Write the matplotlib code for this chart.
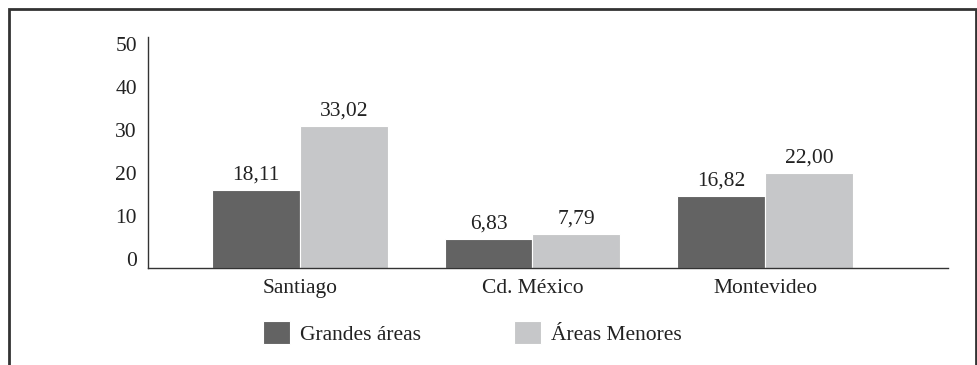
import numpy as np
import matplotlib.pyplot as plt
import matplotlib.transforms as mtransforms
from matplotlib.patches import Rectangle

# datos
ciudades = ['Santiago', 'Cd. México', 'Montevideo']
grandes = [18.11, 6.83, 16.82]
menores = [33.02, 7.79, 22.00]
series = ['Grandes áreas', 'Áreas Menores']
yticks = [0, 10, 20, 30, 40, 50]

plt.rcParams['font.family'] = ['Liberation Serif', 'DejaVu Serif']
plt.rcParams['font.size'] = 15.5

fig = plt.figure(figsize=(9.78, 3.65), dpi=100)
ax = fig.add_axes([0.1513, 0.2658, 0.8180, 0.6328])

x = np.arange(len(ciudades))
w = 0.378
b1 = ax.bar(x - w / 2, grandes, w, color='#636363', edgecolor='white', linewidth=0.8,
            label=series[0])
b2 = ax.bar(x + w / 2, menores, w, color='#c6c7c9', edgecolor='white', linewidth=0.8,
            label=series[1])

for bars, vals in [(b1, grandes), (b2, menores)]:
    for rect, v in zip(bars, vals):
        ax.annotate(f'{v:.2f}'.replace('.', ','),
                    (rect.get_x() + rect.get_width() / 2, rect.get_height()),
                    xytext=(0, 4), textcoords='offset points',
                    ha='center', va='bottom', color='#222222')

ax.set_xlim(-0.652, 2.785)
ax.set_ylim(0, 53.7)
ax.set_xticks(x)
ax.set_xticklabels(ciudades, color='#222222')
ax.set_yticks(yticks)
ax.set_yticklabels([str(t) for t in yticks], color='#222222')
ax.tick_params(length=0)
ax.tick_params(axis='x', pad=8)
ax.tick_params(axis='y', pad=8)

# etiquetas del eje y un poco desplazadas hacia arriba
off = mtransforms.ScaledTranslation(0, 9 / 100, fig.dpi_scale_trans)
for lab in ax.get_yticklabels():
    lab.set_transform(lab.get_transform() + off)

for s in ['top', 'right']:
    ax.spines[s].set_visible(False)
for s in ['left', 'bottom']:
    ax.spines[s].set_color('#333333')
    ax.spines[s].set_linewidth(1.0)

fig.legend(handles=[b1, b2], loc='center', bbox_to_anchor=(0.483, 0.088), ncol=2,
           frameon=False, handlelength=1.25, handleheight=1.25, columnspacing=4.3,
           handletextpad=0.47, labelcolor='#222222')

# marco exterior
fig.patches.append(Rectangle((9 / 978, -0.1), 967 / 978, 1.1 - 9 / 365,
                             transform=fig.transFigure, fill=False,
                             edgecolor='#333333', linewidth=2))

fig.savefig('out.png', dpi=100)
